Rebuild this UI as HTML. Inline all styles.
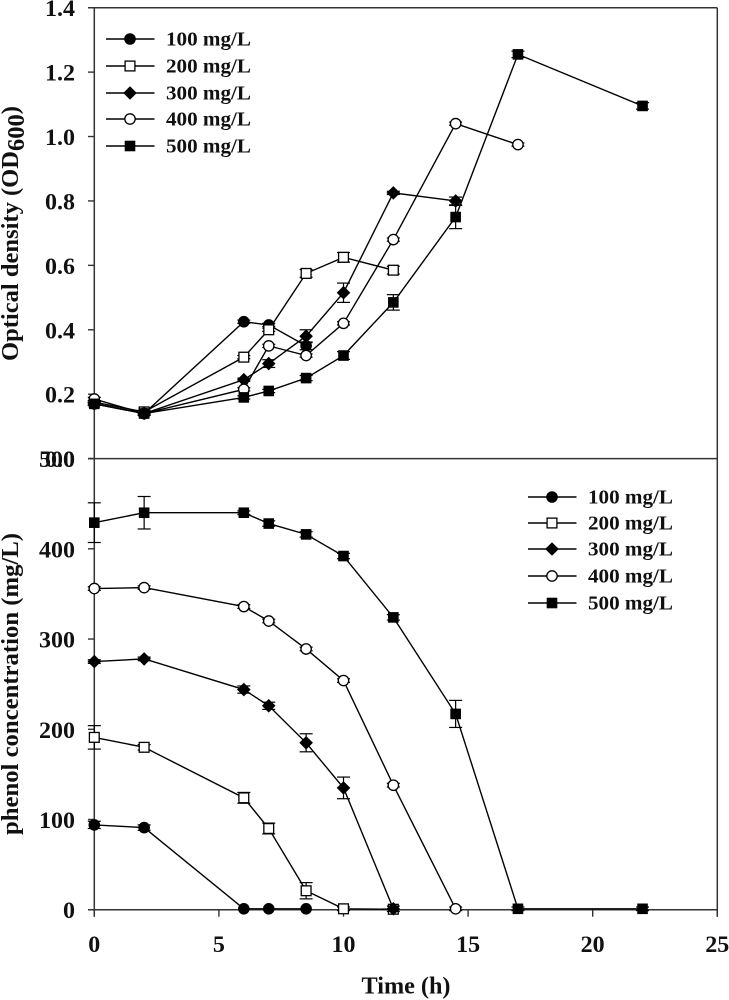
<!DOCTYPE html>
<html lang="en">
<head>
<meta charset="utf-8">
<title>Optical density and phenol concentration over time</title>
<style>
html,body{margin:0;padding:0;background:#fff;}
#chart{display:block;width:729px;height:1000px;font-family:"Liberation Serif",serif;font-weight:bold;fill:#111;}
</style>
</head>
<body>
<svg id="chart" xmlns="http://www.w3.org/2000/svg" width="729" height="1000" viewBox="0 0 729 1000">
  <g id="frame"></g>
  <g id="top-panel"></g>
  <g id="bottom-panel"></g>
  <g id="tick-labels"></g>
  <text x="18" y="233.5" text-anchor="middle" font-size="24" transform="rotate(-90 18 233.5)" textLength="255" lengthAdjust="spacingAndGlyphs">Optical density (OD<tspan dy="6">600</tspan><tspan dy="-6">)</tspan></text>
  <text x="18" y="684" text-anchor="middle" font-size="24" transform="rotate(-90 18 684)" textLength="302" lengthAdjust="spacingAndGlyphs">phenol concentration (mg/L)</text>
  <text x="406" y="993.5" text-anchor="middle" font-size="24" textLength="89" lengthAdjust="spacingAndGlyphs">Time (h)</text>
  <g id="top-legend"></g>
  <g id="bottom-legend"></g>
</svg>
<script>
var times = [0, 2, 6, 7, 8.5, 10, 12, 14.5, 17, 22];
var seriesNames = ['100 mg/L', '200 mg/L', '300 mg/L', '400 mg/L', '500 mg/L'];
var markerKinds = ['circle', 'open-square', 'diamond', 'open-circle', 'square'];

var odValues100 = [0.17, 0.14, 0.425, 0.415, 0.35];
var odValues200 = [0.175, 0.145, 0.315, 0.40, 0.575, 0.625, 0.585];
var odValues300 = [0.17, 0.14, 0.245, 0.295, 0.38, 0.515, 0.825, 0.80];
var odValues400 = [0.185, 0.14, 0.215, 0.35, 0.32, 0.42, 0.68, 1.04, 0.975];
var odValues500 = [0.17, 0.14, 0.19, 0.21, 0.25, 0.32, 0.485, 0.75, 1.255, 1.095];

var odErrors100 = [0.005, 0.005, 0.005, 0.005, 0.012];
var odErrors200 = [0.005, 0.005, 0.005, 0.005, 0.012, 0.015, 0.012];
var odErrors300 = [0.005, 0.005, 0.005, 0.012, 0.02, 0.03, 0.005, 0.012];
var odErrors400 = [0.005, 0.005, 0.005, 0.005, 0.005, 0.005, 0.005, 0.005, 0.005];
var odErrors500 = [0.005, 0.005, 0.005, 0.005, 0.008, 0.012, 0.024, 0.036, 0.01, 0.01];

var phenolValues100 = [94, 91, 1, 1, 1];
var phenolValues200 = [191, 180, 124, 90, 21, 1, 0.5];
var phenolValues300 = [275, 278, 244, 226, 185, 135, 1];
var phenolValues400 = [356, 357, 336, 320, 289, 254, 138, 1];
var phenolValues500 = [429, 440, 440, 428, 416, 392, 324, 217, 1, 1];

var phenolErrors100 = [4, 3, 0, 0, 0];
var phenolErrors200 = [13, 3, 6, 6, 9, 2, 0];
var phenolErrors300 = [2, 2, 4, 4, 10, 12, 3];
var phenolErrors400 = [2, 2, 2, 2, 2, 2, 2, 2];
var phenolErrors500 = [22, 18, 2, 3, 3, 3, 3, 15, 2, 2];

var xTicks = [0, 5, 10, 15, 20, 25];
var odTicks = [0, 0.2, 0.4, 0.6, 0.8, 1.0, 1.2, 1.4];
var odTickLabels = ['0.0', '0.2', '0.4', '0.6', '0.8', '1.0', '1.2', '1.4'];
var phenolTicks = [0, 100, 200, 300, 400, 500];
var phenolTickLabels = ['0', '100', '200', '300', '400', '500'];

var odSeries = [odValues100, odValues200, odValues300, odValues400, odValues500];
var odErrorSets = [odErrors100, odErrors200, odErrors300, odErrors400, odErrors500];
var phenolSeries = [phenolValues100, phenolValues200, phenolValues300, phenolValues400, phenolValues500];
var phenolErrorSets = [phenolErrors100, phenolErrors200, phenolErrors300, phenolErrors400, phenolErrors500];

var NS = 'http://www.w3.org/2000/svg';
var PLOT_LEFT = 94.3, PLOT_RIGHT = 717.3, PLOT_TOP = 7.7, PANEL_SPLIT = 458.6, PLOT_BOTTOM = 909.7;

function xScale(t) { return PLOT_LEFT + (t / 25) * (PLOT_RIGHT - PLOT_LEFT); }
function yOd(v) { return PANEL_SPLIT - (v / 1.4) * (PANEL_SPLIT - PLOT_TOP); }
function yPhenol(v) { return PLOT_BOTTOM - (v / 500) * (PLOT_BOTTOM - PANEL_SPLIT); }

function make(tag, attrs, parent) {
  var el = document.createElementNS(NS, tag);
  for (var k in attrs) { el.setAttribute(k, attrs[k]); }
  parent.appendChild(el);
  return el;
}

function drawLine(parent, x1, y1, x2, y2, stroke, width, name) {
  var el = make('line', { x1: x1, y1: y1, x2: x2, y2: y2, stroke: stroke, 'stroke-width': width }, parent);
  
  
  return el;
}

function drawMarker(parent, kind, cx, cy, name) {
  var el;
  if (kind === 'circle') {
    el = make('circle', { cx: cx, cy: cy, r: 5.8, fill: '#000' }, parent);
  } else if (kind === 'open-circle') {
    el = make('circle', { cx: cx, cy: cy, r: 5.2, fill: '#fff', stroke: '#000', 'stroke-width': 1.3 }, parent);
  } else if (kind === 'open-square') {
    el = make('rect', { x: cx - 4.9, y: cy - 4.9, width: 9.8, height: 9.8, fill: '#fff', stroke: '#000', 'stroke-width': 1.3 }, parent);
  } else if (kind === 'square') {
    el = make('rect', { x: cx - 5.3, y: cy - 5.3, width: 10.6, height: 10.6, fill: '#000' }, parent);
  } else {
    el = make('polygon', { points: (cx - 6.8) + ',' + cy + ' ' + cx + ',' + (cy - 6.8) + ' ' + (cx + 6.8) + ',' + cy + ' ' + cx + ',' + (cy + 6.8), fill: '#000' }, parent);
  }
  
  
  return el;
}

function drawSeries(parent, values, errors, yFn, kind, seriesName) {
  var g = make('g', {}, parent);
  
  
  var pts = values.map(function (v, i) { return xScale(times[i]) + ',' + yFn(v); }).join(' ');
  var line = make('polyline', { points: pts, fill: 'none', stroke: '#000', 'stroke-width': 1.4 }, g);
  
  
  values.forEach(function (v, i) {
    var e = errors[i] || 0;
    var x = xScale(times[i]);
    if (e > 0) {
      var hi = yFn(v + e), lo = yFn(v - e);
      drawLine(g, x, hi, x, lo, '#000', 1.2, 'error-bar-' + seriesName);
      drawLine(g, x - 6.5, hi, x + 6.5, hi, '#000', 1.2, 'error-cap-' + seriesName);
      drawLine(g, x - 6.5, lo, x + 6.5, lo, '#000', 1.2, 'error-cap-' + seriesName);
    }
  });
  values.forEach(function (v, i) {
    drawMarker(g, kind, xScale(times[i]), yFn(v), 'point-' + seriesName);
  });
}

function drawLabel(parent, x, y, text, anchor, size, name, stretchWidth) {
  var el = make('text', { x: x, y: y, 'text-anchor': anchor, 'font-size': size }, parent);
  el.textContent = text;
  
  
  el.setAttribute('textLength', stretchWidth);
  el.setAttribute('lengthAdjust', 'spacingAndGlyphs');
  return el;
}

function tickWidth(text) {
  var w = 0;
  for (var i = 0; i < text.length; i++) { w += text[i] === '.' ? 6 : 12; }
  return w;
}

function drawLegend(parent, x0, ys) {
  seriesNames.forEach(function (name, i) {
    var g = make('g', {}, parent);
    
    
    drawLine(g, x0, ys[i], x0 + 48.5, ys[i], '#000', 1.4, 'legend-line');
    drawMarker(g, markerKinds[i], x0 + 24, ys[i], 'legend-marker');
    drawLabel(g, x0 + 60, ys[i] + 6.5, name, 'start', 20, 'legend-label', 85);
  });
}

var frame = document.getElementById('frame');
var axisColor = '#333';
drawLine(frame, 88, PLOT_TOP, PLOT_RIGHT, PLOT_TOP, axisColor, 1.5, 'top-border');
drawLine(frame, 88, PANEL_SPLIT, PLOT_RIGHT, PANEL_SPLIT, axisColor, 1.5, 'panel-divider');
drawLine(frame, 88, PLOT_BOTTOM, PLOT_RIGHT, PLOT_BOTTOM, axisColor, 1.5, 'x-axis');
drawLine(frame, PLOT_LEFT, PLOT_TOP, PLOT_LEFT, PLOT_BOTTOM + 7, axisColor, 1.5, 'y-axis');
drawLine(frame, PLOT_RIGHT, PLOT_TOP, PLOT_RIGHT, PLOT_BOTTOM + 7, axisColor, 1.5, 'right-border');

var tickLabels = document.getElementById('tick-labels');
xTicks.forEach(function (t) {
  drawLine(frame, xScale(t), PLOT_BOTTOM, xScale(t), PLOT_BOTTOM + 7, axisColor, 1.4, 'x-tick');
  drawLabel(tickLabels, xScale(t), 952, String(t), 'middle', 23.5, 'x-tick-label', tickWidth(String(t)));
});
odTicks.forEach(function (v, i) {
  drawLine(frame, 88, yOd(v), PLOT_LEFT, yOd(v), axisColor, 1.4, 'od-y-tick');
  drawLabel(tickLabels, 75, yOd(v) + 8.5, odTickLabels[i], 'end', 23.5, 'od-y-tick-label', tickWidth(odTickLabels[i]));
});
phenolTicks.forEach(function (v, i) {
  drawLine(frame, 88, yPhenol(v), PLOT_LEFT, yPhenol(v), axisColor, 1.4, 'phenol-y-tick');
  drawLabel(tickLabels, 75, yPhenol(v) + 8.5, phenolTickLabels[i], 'end', 23.5, 'phenol-y-tick-label', tickWidth(phenolTickLabels[i]));
});

var topPanel = document.getElementById('top-panel');
var bottomPanel = document.getElementById('bottom-panel');
odSeries.forEach(function (vals, i) {
  drawSeries(topPanel, vals, odErrorSets[i], yOd, markerKinds[i], 'od-' + seriesNames[i].split(' ')[0]);
});
phenolSeries.forEach(function (vals, i) {
  drawSeries(bottomPanel, vals, phenolErrorSets[i], yPhenol, markerKinds[i], 'phenol-' + seriesNames[i].split(' ')[0]);
});

drawLegend(document.getElementById('top-legend'), 106, [39, 66, 93, 119, 146]);
drawLegend(document.getElementById('bottom-legend'), 528, [497, 523, 549, 576, 603]);
</script>
</body>
</html>
